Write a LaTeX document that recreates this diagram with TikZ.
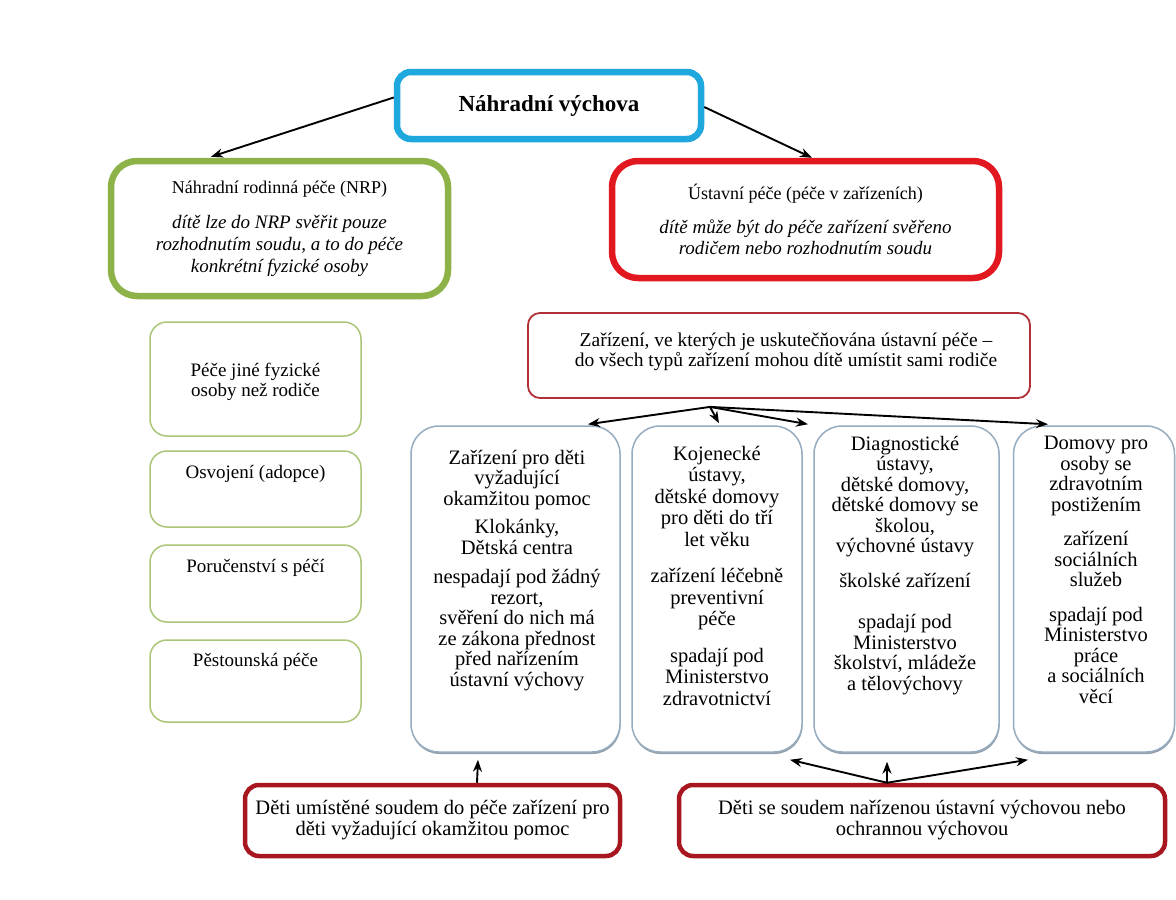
\documentclass[tikz,border=0pt]{standalone}
\usepackage{fontspec}
\setmainfont{Liberation Serif}
\usetikzlibrary{arrows.meta,shadows}
\definecolor{cblue}{RGB}{30,168,222}
\definecolor{cgreen}{RGB}{140,178,72}
\definecolor{cred}{RGB}{226,24,32}
\definecolor{cdred}{RGB}{168,22,32}
\definecolor{cmred}{RGB}{176,48,54}
\definecolor{clgreen}{RGB}{170,198,118}
\definecolor{cgblue}{RGB}{150,172,192}
\newcommand\nrpit{\fontsize{19}{22.5}\selectfont\itshape}
\begin{document}
\begin{tikzpicture}[x=1pt,y=-1pt,
  thickbox/.style={draw, fill=white, line width=6.5pt, rounded corners=#1, inner sep=0pt,
    drop shadow={shadow xshift=1.5pt,shadow yshift=-1.5pt,opacity=0.35}},
  bbox/.style={draw, fill=white, line width=4.5pt, rounded corners=14pt, inner sep=0pt, draw=cdred, align=center,
    font=\fontsize{20.5}{21}\selectfont,
    drop shadow={shadow xshift=1pt,shadow yshift=-1pt,opacity=0.3}},
  gbox/.style={draw=clgreen, fill=white, line width=1.5pt, rounded corners=17pt, inner sep=0pt, minimum width=211pt},
  blbox/.style={draw=cgblue, fill=white, line width=1.5pt, rounded corners=28pt, inner sep=0pt, minimum height=326pt,
    drop shadow={shadow xshift=0.5pt,shadow yshift=-2pt,opacity=0.7,fill=cgblue!70!black}},
  txt/.style={align=center, inner sep=0pt, font=\fontsize{19}{20.5}\selectfont},
  bltxt/.style={align=center, inner sep=0pt, anchor=north, font=\fontsize{20.5}{20.5}\selectfont},
  conn/.style={-{Stealth[length=12pt,width=9pt]}, line width=1.9pt, black}]
\useasboundingbox (0,0) rectangle (1176,900);
\fill[white] (0,0) rectangle (1176,900);

% top
\node[thickbox=14pt, draw=cblue, minimum width=304pt, minimum height=67pt,
  font=\fontsize{23}{26}\selectfont\bfseries] (top) at (549,105.5) {Náhradní výchova};

% NRP
\node[thickbox=26pt, draw=cgreen, minimum width=337pt, minimum height=135pt, align=center,
  font=\fontsize{18}{22}\selectfont] (nrp) at (279.5,228.5)
  {Náhradní rodinná péče (NRP)\\[13pt]
   {\nrpit dítě lze do NRP svěřit pouze}\\
   {\nrpit rozhodnutím soudu, a to do péče}\\
   {\nrpit konkrétní fyzické osoby}};

% Ustavni
\node[thickbox=26pt, draw=cred, minimum width=387pt, minimum height=117pt, align=center,
  font=\fontsize{18}{21}\selectfont] (ust) at (805.5,219.5)
  {Ústavní péče (péče v zařízeních)\\[13pt]
   {\nrpit dítě může být do péče zařízení svěřeno}\\
   {\nrpit rodičem nebo rozhodnutím soudu}};

% zarizeni
\node[draw=cmred, fill=white, line width=1.8pt, rounded corners=12pt, minimum width=502pt, minimum height=85pt,
  inner sep=0pt] (zar) at (779,355.5) {};
\node[txt, font=\fontsize{19.5}{20.5}\selectfont] (zart) at (786,352)
  {Zařízení, ve kterých je uskutečňována ústavní péče –\\
   do všech typů zařízení mohou dítě umístit sami rodiče};

% green small boxes
\node[gbox, minimum height=114pt] (g1) at (255.5,379) {};
\node[gbox, minimum height=76pt] (g2) at (255.5,489) {};
\node[gbox, minimum height=77pt] (g3) at (255.5,583.5) {};
\node[gbox, minimum height=82pt] (g4) at (255.5,681) {};
\node[txt] (g1t) at (255.5,382) {Péče jiné fyzické\\osoby než rodiče};
\node[txt] (g2t) at (255.5,474) {Osvojení (adopce)};
\node[txt] (g3t) at (255.5,568) {Poručenství s péčí};
\node[txt] (g4t) at (255.5,662) {Pěstounská péče};

% blue boxes
\node[blbox, minimum width=209pt] (b1) at (515.5,589) {};
\node[blbox, minimum width=170pt] (b2) at (717,589) {};
\node[blbox, minimum width=185pt] (b3) at (906.5,589) {};
\node[blbox, minimum width=161pt] (b4) at (1094,589) {};

\node[bltxt] (b1t) at (517,450)
  {Zařízení pro děti\\vyžadující\\okamžitou pomoc\\[8pt]
   Klokánky,\\Dětská centra\\[9pt]
   nespadají pod žádný\\rezort,\\svěření do nich má\\ze zákona přednost\\před nařízením\\ústavní výchovy};
\node[bltxt, font=\fontsize{20.5}{21.5}\selectfont] (b2t) at (717,446)
  {Kojenecké\\ústavy,\\dětské domovy\\pro děti do tří\\let věku\\[15pt]
   zařízení léčebně\\preventivní\\péče\\[15pt]
   spadají pod\\Ministerstvo\\zdravotnictví};
\node[bltxt] (b3t) at (905,436)
  {Diagnostické\\ústavy,\\dětské domovy,\\dětské domovy se\\školou,\\výchovné ústavy\\[14pt]
   školské zařízení\\[21pt]
   spadají pod\\Ministerstvo\\školství, mládeže\\a tělovýchovy};
\node[bltxt] (b4t) at (1096,436)
  {Domovy pro\\osoby se\\zdravotním\\postižením\\[14pt]
   zařízení\\sociálních\\služeb\\[14pt]
   spadají pod\\Ministerstvo\\práce\\a sociálních\\věcí};

% bottom boxes
\node[bbox, minimum width=375pt, minimum height=71pt] (d1) at (432.5,820.5)
  {Děti umístěné soudem do péče zařízení pro\\děti vyžadující okamžitou pomoc};
\node[bbox, minimum width=486pt, minimum height=71pt] (d2) at (922,820.5)
  {Děti se soudem nařízenou ústavní výchovou nebo\\ochrannou výchovou};

% connectors
\draw[conn] ([yshift=8pt]top.west) -- ([xshift=-68.5pt,yshift=1pt]nrp.north);
\draw[conn] ([yshift=-1.5pt]top.east) -- ([xshift=6.5pt]ust.north);

\coordinate (zs) at ([xshift=-69pt,yshift=-8pt]zar.south);
\draw[conn] (zs) -- ([xshift=72.5pt,yshift=1pt]b1.north);
\draw[conn] (zs) -- ([xshift=2pt,yshift=2pt]b2.north);
\draw[conn] (zs) -- ([xshift=-98.5pt,yshift=1pt]b3.north);
\draw[conn] (zs) -- ([xshift=-46pt,yshift=1pt]b4.north);

\draw[conn] ([xshift=44.5pt]d1.north) -- ([xshift=-37.5pt,yshift=-7pt]b1.south);

\coordinate (ds) at ([xshift=-35pt]d2.north);
\draw[conn] (ds) -- ([xshift=73pt,yshift=-7pt]b2.south);
\draw[conn] (ds) -- ([xshift=-19.5pt,yshift=-9pt]b3.south);
\draw[conn] (ds) -- ([xshift=-66pt,yshift=-7pt]b4.south);
\end{tikzpicture}
\end{document}
